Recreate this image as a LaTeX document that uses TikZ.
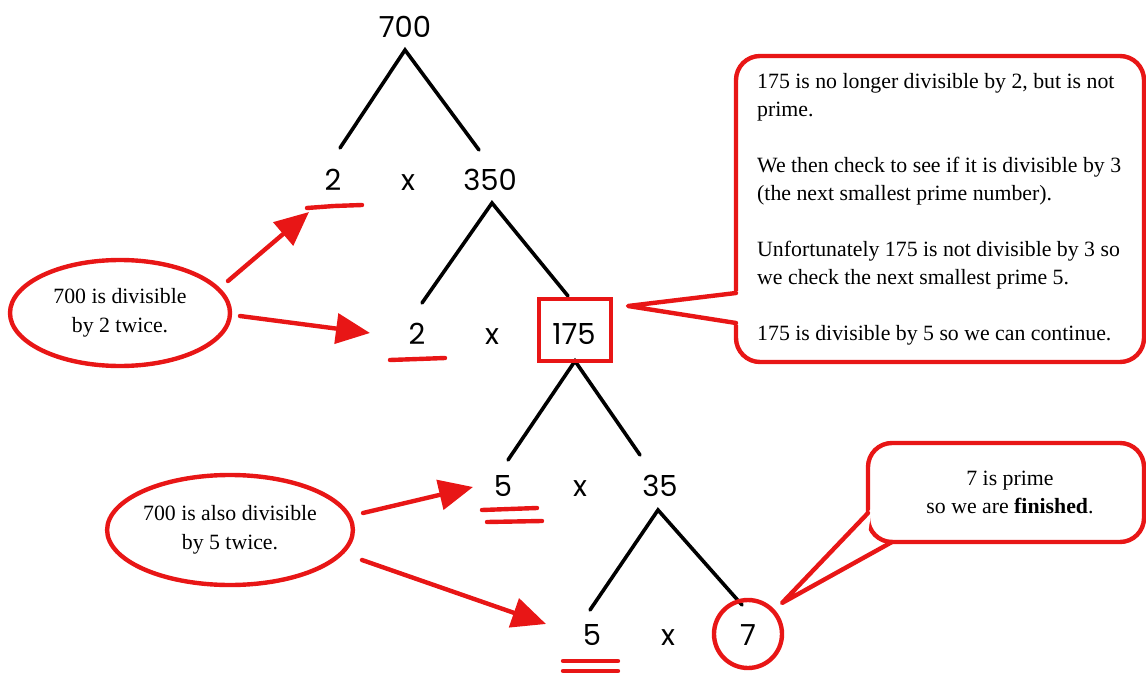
\documentclass[tikz,border=0pt]{standalone}
\usepackage{fontspec}
\setmainfont{Liberation Serif}
\newfontfamily\treefont{Poppins}
\usetikzlibrary{arrows.meta,calc,shapes.geometric}
\definecolor{pen}{RGB}{232,22,22}
\begin{document}
\begin{tikzpicture}[x=1pt,y=-1pt,
  num/.style={font=\treefont\fontsize{29}{29}\selectfont, inner sep=0, anchor=base},
  branch/.style={line width=3.6, line cap=round},
  redline/.style={draw=pen, line width=4.4, line cap=round, line join=round},
  redarrow/.style={redline, -{Triangle[length=34,width=30]}},
  note/.style={font=\fontsize{21.8}{28}\selectfont, inner sep=0},
  oval/.style={ellipse, draw=pen, line width=4.4, align=center, inner sep=0,
               font=\fontsize{21.8}{29}\selectfont},
]
\useasboundingbox (0,0) rectangle (1146,674);

% ---- factor tree ----
\node[num] (n700) at (405,38) {700};
\node[num] (n2a)  at (333,190) {2};
\node[num] (xa)   at (408,190) {x};
\node[num] (n350) at (490,190) {350};
\node[num] (n2b)  at (417,344) {2};
\node[num] (xb)   at (492,344) {x};
\node[num] (n175) at (574,344) {175};
\node[num] (n5a)  at (503,496) {5};
\node[num] (xc)   at (580,496) {x};
\node[num] (n35)  at (660,496) {35};
\node[num] (n5b)  at (592,645) {5};
\node[num] (xd)   at (668,645) {x};
\node[num] (n7)   at (748,645) {7};

% branch ends
\coordinate (p700) at (405,50);
\coordinate (l700) at (340,148);
\coordinate (r700) at (479,150);
\coordinate (p350) at (492,203);
\coordinate (l350) at (422,303);
\coordinate (r350) at (568,296);
\coordinate (p175) at (575,361);
\coordinate (l175) at (508,460);
\coordinate (r175) at (640,455);
\coordinate (p35)  at (658,510);
\coordinate (l35)  at (590,610);
\coordinate (r35)  at (742,605);

\draw[branch] (l700) -- (p700) -- (r700);
\draw[branch] (l350) -- (p350) -- (r350);
\draw[branch] (l175) -- (p175) -- (r175);
\draw[branch] (l35)  -- (p35)  -- (r35);

% highlight marks on the tree
\node[draw=pen, line width=4.4, minimum width=72, minimum height=62, inner sep=0]
  (box175) at (575,330) {};
\node[circle, draw=pen, line width=4.4, minimum size=68, inner sep=0]
  (ring7) at (748,634) {};

\draw[redline] (307,208) -- (334,206) -- (362,205);
\draw[redline] (390,360) -- (418,359) -- (445,358);
\draw[redline] (482,510) -- (537,508);
\draw[redline] (487,522) -- (542,521);
\draw[redline] (563,661) -- (618,661);
\draw[redline] (563,671) -- (618,671);

% ---- explanation ovals and arrows ----
\node[oval, minimum width=220, minimum height=106] (o2) at (120,313)
  {700 is divisible\\by 2 twice.};
\node[oval, minimum width=240, minimum height=110] (o5) at (230,530)
  {700 is also divisible\\by 5 twice.};

\coordinate (a1s) at (228,281); \coordinate (a1e) at (309,212);
\coordinate (a2s) at (240,316); \coordinate (a2e) at (370,333);
\coordinate (a3s) at (363,513); \coordinate (a3e) at (473,487);
\coordinate (a4s) at (362,560); \coordinate (a4e) at (546,624);
\draw[redarrow] (a1s) -- (a1e);
\draw[redarrow] (a2s) -- (a2e);
\draw[redarrow] (a3s) -- (a3e);
\draw[redarrow] (a4s) -- (a4e);

% ---- speech bubble about 175 ----
\node[draw=pen, fill=white, line width=4.4, rounded corners=24,
      minimum width=408, minimum height=306, inner sep=0]
  (bub1) at (940,209) {};
\coordinate (tip1) at (628,306);
\fill[white] (739,291) -- (tip1) -- (739,325) -- cycle;
\draw[redline] (736,293) -- (tip1) -- (736,323);
\node[note, anchor=north west, align=left] (txt1) at (757,73)
  {175 is no longer divisible by 2, but is not\\
   prime.\\[28pt]
   We then check to see if it is divisible by 3\\
   (the next smallest prime number).\\[28pt]
   Unfortunately 175 is not divisible by 3 so\\
   we check the next smallest prime 5.\\[28pt]
   175 is divisible by 5 so we can continue.};

% ---- speech bubble about 7 ----
\node[draw=pen, fill=white, line width=4.4, rounded corners=24,
      minimum width=276, minimum height=99, inner sep=0]
  (bub2) at (1006,492.5) {};
\coordinate (tip2) at (782,603);
\fill[white] (872,508) -- (tip2) -- (898,546) -- (866,546) -- cycle;
\draw[redline] (868,513) -- (tip2) -- (892,542);
\node[note, align=center] (txt2) at (1010,492)
  {7 is prime\\so we are \textbf{finished}.};
\end{tikzpicture}
\end{document}
